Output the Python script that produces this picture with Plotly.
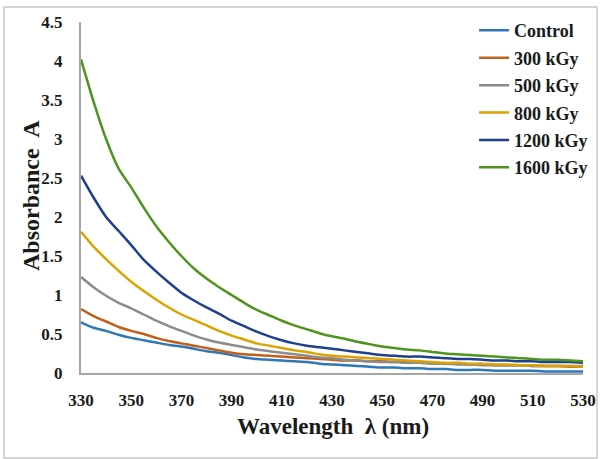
import plotly.graph_objects as go

wavelength = list(range(330, 531, 5))

control = [0.65, 0.58, 0.54, 0.49, 0.45, 0.42, 0.39, 0.36, 0.34, 0.31, 0.28, 0.26, 0.23, 0.20, 0.18, 0.17,
           0.16, 0.15, 0.14, 0.12, 0.11, 0.10, 0.09, 0.08, 0.07, 0.07, 0.06, 0.06, 0.05, 0.05, 0.04, 0.04,
           0.04, 0.03, 0.03, 0.03, 0.03, 0.02, 0.02, 0.02, 0.02]
kgy300 = [0.82, 0.73, 0.66, 0.59, 0.54, 0.50, 0.45, 0.41, 0.38, 0.35, 0.32, 0.29, 0.26, 0.24, 0.23, 0.22,
          0.21, 0.20, 0.19, 0.18, 0.17, 0.16, 0.16, 0.15, 0.15, 0.14, 0.14, 0.13, 0.13, 0.12, 0.12, 0.11,
          0.11, 0.10, 0.10, 0.10, 0.09, 0.09, 0.09, 0.08, 0.08]
kgy500 = [1.23, 1.10, 0.99, 0.90, 0.83, 0.75, 0.67, 0.60, 0.54, 0.48, 0.43, 0.39, 0.36, 0.33, 0.30, 0.28,
          0.26, 0.24, 0.22, 0.20, 0.19, 0.17, 0.16, 0.15, 0.14, 0.14, 0.13, 0.13, 0.12, 0.12, 0.11, 0.11,
          0.10, 0.10, 0.10, 0.10, 0.09, 0.09, 0.09, 0.09, 0.09]
kgy800 = [1.81, 1.62, 1.46, 1.31, 1.17, 1.05, 0.94, 0.84, 0.75, 0.68, 0.61, 0.54, 0.48, 0.43, 0.38, 0.35,
          0.32, 0.29, 0.27, 0.24, 0.22, 0.21, 0.20, 0.19, 0.18, 0.17, 0.16, 0.15, 0.14, 0.13, 0.13, 0.12,
          0.12, 0.11, 0.11, 0.10, 0.10, 0.09, 0.09, 0.09, 0.08]
kgy1200 = [2.53, 2.25, 2.00, 1.82, 1.64, 1.45, 1.30, 1.16, 1.03, 0.93, 0.84, 0.76, 0.67, 0.60, 0.53, 0.47,
           0.42, 0.38, 0.35, 0.33, 0.31, 0.29, 0.27, 0.25, 0.23, 0.22, 0.21, 0.21, 0.20, 0.19, 0.18, 0.18,
           0.17, 0.16, 0.16, 0.15, 0.15, 0.14, 0.14, 0.14, 0.13]
kgy1600 = [4.02, 3.48, 3.00, 2.62, 2.38, 2.12, 1.88, 1.68, 1.50, 1.34, 1.21, 1.10, 1.00, 0.90, 0.81, 0.74,
           0.67, 0.61, 0.56, 0.51, 0.47, 0.44, 0.40, 0.37, 0.34, 0.32, 0.30, 0.29, 0.27, 0.25, 0.24, 0.23,
           0.22, 0.21, 0.20, 0.19, 0.18, 0.17, 0.17, 0.16, 0.15]

series_names = ["Control", "300 kGy", "500 kGy", "800 kGy", "1200 kGy", "1600 kGy"]
series_values = [control, kgy300, kgy500, kgy800, kgy1200, kgy1600]
colors = ["#2E78B8", "#C0601A", "#8C8C8C", "#DCA200", "#1F3F8F", "#4E941E"]

x_ticks = list(range(330, 531, 20))
y_ticks = [0, 0.5, 1, 1.5, 2, 2.5, 3, 3.5, 4, 4.5]
y_tick_labels = ["0", "0.5", "1", "1.5", "2", "2.5", "3", "3.5", "4", "4.5"]

FONT = "Liberation Serif"
TXT = "#1a1a1a"

# plot area in pixels: x 81..583, y 22..373
PW, PH = 502, 351

fig = go.Figure()
for i, (name, vals, col) in enumerate(zip(series_names, series_values, colors)):
    fig.add_trace(go.Scatter(x=wavelength, y=vals, mode="lines", name=name,
                             legendgroup=f"g{i}",
                             line=dict(color=col, width=2.5, shape="spline", smoothing=0.6)))

fig.update_layout(
    width=601, height=459,
    margin=dict(l=81, r=18, t=22, b=86, autoexpand=False),
    paper_bgcolor="white", plot_bgcolor="white",
    font=dict(family=FONT, color=TXT),
    showlegend=True,
    legend=dict(x=0.783, y=1.028, xanchor="left", yanchor="top",
                font=dict(family=FONT, size=18, color=TXT, weight="bold"),
                tracegroupgap=1, bgcolor="rgba(0,0,0,0)"),
    xaxis=dict(range=[330, 530], tickvals=x_ticks, ticktext=[str(t) for t in x_ticks],
               showgrid=False, zeroline=False, showline=True, linecolor="#A6A6A6", linewidth=2,
               ticks="", ticklabelstandoff=11, automargin=False,
               tickfont=dict(family=FONT, size=17, color=TXT, weight="bold")),
    yaxis=dict(range=[0, 4.5], tickvals=y_ticks, ticktext=y_tick_labels,
               showgrid=False, zeroline=False, showline=True, linecolor="#A6A6A6", linewidth=2,
               ticks="", ticklabelstandoff=13, automargin=False,
               tickfont=dict(family=FONT, size=17, color=TXT, weight="bold")),
    annotations=[
        dict(text="Wavelength  λ (nm)", xref="paper", yref="paper",
             x=(333 - 81) / PW, y=-(426 - 373) / PH, xanchor="center", yanchor="middle",
             showarrow=False, font=dict(family=FONT, size=23, color=TXT, weight="bold")),
        dict(text="Absorbance  A", xref="paper", yref="paper", textangle=-90,
             x=-(81 - 31) / PW, y=(373 - 196) / PH, xanchor="center", yanchor="middle",
             showarrow=False, font=dict(family=FONT, size=24, color=TXT, weight="bold")),
    ],
    shapes=[dict(type="rect", xref="paper", yref="paper",
                 x0=-77 / PW, x1=516 / PW, y0=-85 / PH, y1=(373 - 7) / PH,
                 line=dict(color="#C8C8C8", width=1.5), fillcolor="rgba(0,0,0,0)", layer="below")],
)

fig.write_html("out.html", config={"displayModeBar": False},
               post_script="document.body.style.margin='0';")
